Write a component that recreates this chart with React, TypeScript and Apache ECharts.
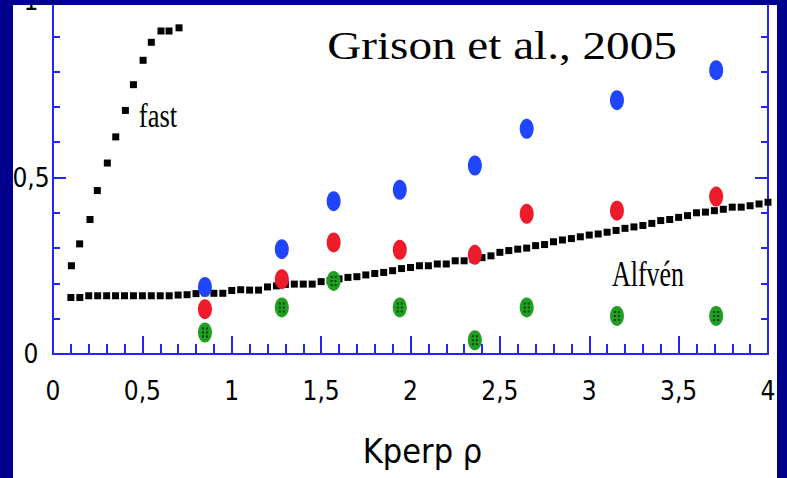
import React, { useEffect, useRef } from "react";
import * as echarts from "echarts";

// Data
const fastX = [0.103, 0.149, 0.207, 0.248, 0.304, 0.351, 0.405, 0.45, 0.504, 0.55, 0.604, 0.649, 0.705];
const fastY = [0.25, 0.312, 0.381, 0.463, 0.541, 0.615, 0.69, 0.763, 0.832, 0.883, 0.915, 0.915, 0.924];

const alfvenX = [
  0.1, 0.15, 0.2, 0.25, 0.3, 0.35, 0.4, 0.45, 0.5, 0.55, 0.6, 0.65, 0.7, 0.75, 0.8, 0.85, 0.9, 0.95,
  1.0, 1.05, 1.1, 1.15, 1.2, 1.25, 1.3, 1.35, 1.4, 1.45, 1.5, 1.55, 1.6, 1.65, 1.7, 1.75, 1.8, 1.85,
  1.9, 1.95, 2.0, 2.05, 2.1, 2.15, 2.2, 2.25, 2.3, 2.35, 2.4, 2.45, 2.5, 2.55, 2.6, 2.65, 2.7, 2.75,
  2.8, 2.85, 2.9, 2.95, 3.0, 3.05, 3.1, 3.15, 3.2, 3.25, 3.3, 3.35, 3.4, 3.45, 3.5, 3.55, 3.6, 3.65,
  3.7, 3.75, 3.8, 3.85, 3.9, 3.95, 4.0,
];
const alfvenY = [
  0.16, 0.16, 0.165, 0.165, 0.165, 0.165, 0.165, 0.165, 0.165, 0.165, 0.165, 0.165, 0.167, 0.168, 0.171, 0.173, 0.172, 0.172,
  0.18, 0.182, 0.181, 0.181, 0.19, 0.193, 0.197, 0.198, 0.198, 0.198, 0.205, 0.208, 0.213, 0.217, 0.219, 0.224, 0.228, 0.231,
  0.236, 0.242, 0.245, 0.25, 0.25, 0.255, 0.255, 0.264, 0.264, 0.268, 0.273, 0.278, 0.288, 0.293, 0.297, 0.3, 0.307, 0.31,
  0.318, 0.323, 0.327, 0.332, 0.337, 0.34, 0.345, 0.35, 0.356, 0.36, 0.364, 0.37, 0.378, 0.381, 0.387, 0.392, 0.4, 0.402,
  0.406, 0.41, 0.416, 0.416, 0.42, 0.425, 0.43,
];

const pointX = [0.85, 1.28, 1.57, 1.94, 2.36, 2.65, 3.155, 3.71];
const blueY = [0.19, 0.297, 0.433, 0.465, 0.534, 0.638, 0.719, 0.804];
const redY = [0.127, 0.212, 0.316, 0.295, 0.281, 0.397, 0.406, 0.446];
const greenY = [0.061, 0.132, 0.207, 0.132, 0.039, 0.132, 0.108, 0.108];

const xName = "Kperp ρ";
const titleText = "Grison et al., 2005";
const fastLabel = "fast";
const alfvenLabel = "Alfvén";

const NAVY = "#00008c";
const AXIS = "#2424ff";
const LABEL_FONT = '"Liberation Sans Narrow", "DejaVu Sans Condensed", "Roboto Condensed", sans-serif';
const SERIF = '"Liberation Serif", "Times New Roman", "DejaVu Serif", serif';

const fmt = (v: number) => String(v).replace(".", ",");
const zip = (xs: number[], ys: number[]) => xs.map((x, i) => [x, ys[i]]);

const DOTS = "path://M0,0h2v2h-2zM4,0h2v2h-2zM0,4h2v2h-2zM4,4h2v2h-2zM0,8h2v2h-2zM4,8h2v2h-2z";

export default function App() {
  const ref = useRef<HTMLDivElement>(null);
  useEffect(() => {
    if (!ref.current) return;
    const chart = echarts.init(ref.current, undefined, { renderer: "svg" });
    const yAxisBase = {
      type: "value",
      min: 0,
      max: 1,
      interval: 0.5,
      splitLine: { show: false },
      axisLine: { show: true, lineStyle: { color: AXIS, width: 2 } },
      axisTick: { show: true, inside: true, length: 13, lineStyle: { color: AXIS, width: 2 } },
      minorTick: { show: true, splitNumber: 5, length: 7, lineStyle: { color: AXIS, width: 2 } },
      minorSplitLine: { show: false },
    };
    chart.setOption({
      animation: false,
      backgroundColor: NAVY,
      grid: { left: 53, right: 19, top: 1, bottom: 124, containLabel: false, outerBoundsMode: "none" },
      xAxis: {
        type: "value",
        min: 0,
        max: 4,
        interval: 0.5,
        splitLine: { show: false },
        axisLine: { show: true, onZero: false, lineStyle: { color: AXIS, width: 2 } },
        axisTick: { show: true, inside: true, length: 18, lineStyle: { color: AXIS, width: 2 } },
        minorTick: { show: true, splitNumber: 5, length: 10, lineStyle: { color: AXIS, width: 2 } },
        axisLabel: {
          formatter: fmt,
          color: "#000",
          fontFamily: LABEL_FONT,
          fontSize: 26,
          margin: 24,
        },
        name: xName,
        nameLocation: "middle",
        nameGap: 80,
        nameTextStyle: {
          color: "#000",
          fontFamily: LABEL_FONT,
          fontSize: 34,
          padding: [0, 0, 0, 24],
        },
      },
      yAxis: [
        {
          ...yAxisBase,
          position: "left",
          axisLabel: {
            formatter: fmt,
            color: "#000",
            fontFamily: LABEL_FONT,
            fontSize: 26,
            margin: 22,
            align: "center",
            padding: [7, 0, 0, 0],
          },
        },
        {
          ...yAxisBase,
          position: "right",
          axisLabel: { show: false },
        },
      ],
      graphic: [
        {
          type: "rect",
          z: -100,
          silent: true,
          shape: { x: 13, y: 5, width: 764, height: 480 },
          style: { fill: "#ffffff" },
        },
        {
          type: "rect",
          z: 100,
          silent: true,
          shape: { x: 0, y: 0, width: 787, height: 5 },
          style: { fill: NAVY },
        },
        {
          type: "text",
          z: 50,
          x: 502,
          y: 46,
          scaleX: 1.15,
          style: {
            text: titleText,
            fill: "#000",
            font: `41px ${SERIF}`,
            textAlign: "center",
            textVerticalAlign: "middle",
          },
        },
        {
          type: "text",
          z: 50,
          x: 158,
          y: 116,
          scaleX: 0.78,
          style: {
            text: fastLabel,
            fill: "#000",
            font: `34px ${SERIF}`,
            textAlign: "center",
            textVerticalAlign: "middle",
          },
        },
        {
          type: "text",
          z: 50,
          x: 648,
          y: 275,
          scaleX: 0.74,
          style: {
            text: alfvenLabel,
            fill: "#000",
            font: `35px ${SERIF}`,
            textAlign: "center",
            textVerticalAlign: "middle",
          },
        },
      ],
      series: [
        {
          type: "scatter",
          name: "fast",
          data: zip(fastX, fastY),
          symbol: "rect",
          symbolSize: 7,
          itemStyle: { color: "#000", opacity: 1 },
          z: 2,
        },
        {
          type: "scatter",
          name: "Alfvén",
          data: zip(alfvenX, alfvenY),
          symbol: "rect",
          symbolSize: 7,
          itemStyle: { color: "#000", opacity: 1 },
          z: 2,
        },
        {
          type: "scatter",
          name: "blue",
          data: zip(pointX, blueY),
          symbol: "circle",
          symbolSize: [14, 20],
          itemStyle: { color: "#1f45ff", opacity: 1 },
          z: 3,
        },
        {
          type: "scatter",
          name: "red",
          data: zip(pointX, redY),
          symbol: "circle",
          symbolSize: [14, 20],
          itemStyle: { color: "#ee1c2a", opacity: 1 },
          z: 3,
        },
        {
          type: "scatter",
          name: "green",
          data: zip(pointX, greenY),
          symbol: "circle",
          symbolSize: [14, 20],
          itemStyle: { color: "#20a020", opacity: 1 },
          z: 3,
        },
        {
          type: "scatter",
          name: "green-dots",
          data: zip(pointX, greenY),
          symbol: DOTS,
          symbolSize: [6, 10],
          itemStyle: { color: "#0a3a0a", opacity: 1 },
          z: 4,
        },
      ],
    });
    return () => chart.dispose();
  }, []);
  return (
    <div
      ref={ref}
      style={{ position: "fixed", left: 0, top: 0, width: 787, height: 478 }}
    />
  );
}
